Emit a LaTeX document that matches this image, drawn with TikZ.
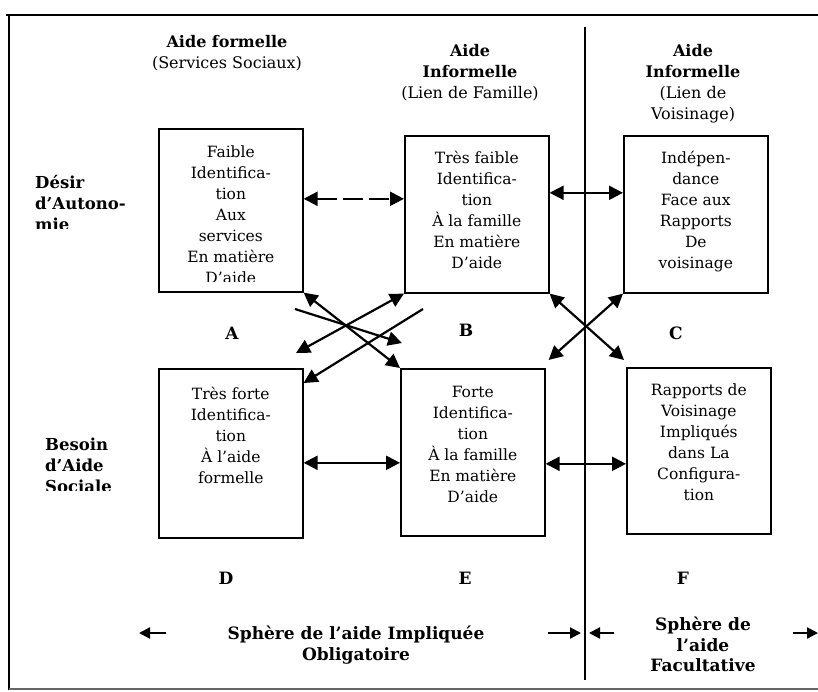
\documentclass[tikz,border=0pt]{standalone}
\usepackage{fontspec}
\setmainfont{DejaVu Serif}
\usetikzlibrary{arrows.meta}
\tikzset{x=1pt, y=-1pt,
  cadre/.style={draw, line width=1.6pt, minimum width=144pt, inner sep=0pt, anchor=north west},
  contenu/.style={anchor=north, align=center, inner sep=0pt, font=\fontsize{15.5}{21}\selectfont},
  titre/.style={anchor=north, align=center, inner sep=0pt, font=\fontsize{16}{21}\selectfont},
  rangee/.style={anchor=north west, align=left, inner sep=0pt, font=\bfseries\fontsize{16.5}{21}\selectfont},
  lettre/.style={inner sep=0pt, font=\bfseries\fontsize{17}{21}\selectfont},
  sphere/.style={anchor=north, align=center, inner sep=0pt, font=\bfseries\fontsize{17}{20.5}\selectfont},
  fleche/.style={line width=2.2pt, {Triangle[length=14pt,width=14pt]}-{Triangle[length=14pt,width=14pt]}},
  simple/.style={line width=2.2pt, -{Triangle[length=14pt,width=14pt]}},
  petite/.style={line width=2.2pt, -{Triangle[length=11pt,width=11pt]}}
}
\def\Cadre#1#2#3#4#5#6#7{%
  \node[cadre, minimum height=#4pt] (#1) at (#2,#3) {};
  \begin{scope}
    \clip (#2,#3) rectangle +(144,#5);
    \node[contenu] (#1t) at ([yshift=-#6pt]#1.north) {#7};
  \end{scope}
}

\begin{document}
\begin{tikzpicture}
\useasboundingbox (0,0) rectangle (818,691);
% cadre exterieur
\draw[line width=2.5pt] (6,15) -- (818,15);
\draw[line width=2.5pt] (9,14) -- (9,690);
\draw[line width=2pt, black!60] (9,689) -- (818,689);
\coordinate (haut) at (585,27);
\coordinate (bas) at (585,680);
\draw[line width=1.6pt] (haut) -- (bas);

\node[titre] (h1) at (227,35) {{\bfseries Aide formelle}\\(Services Sociaux)};
\node[titre] (h2) at (470,44) {{\bfseries Aide}\\{\bfseries Informelle}\\(Lien de Famille)};
\node[titre] (h3) at (693,44) {{\bfseries Aide}\\{\bfseries Informelle}\\(Lien de\\Voisinage)};

\begin{scope}
  \clip (20,150) rectangle (160,228.5);
  \node[rangee] (desir) at (35,175) {Désir\\d’Autono-\\mie};
\end{scope}
\begin{scope}
  \clip (20,420) rectangle (160,490);
  \node[rangee] (besoin) at (45,438) {Besoin\\d’Aide\\Sociale};
\end{scope}

\Cadre{A}{158}{128}{163}{153.5}{18}{Faible\\Identifica-\\tion\\Aux\\services\\En matière\\D’aide}
\Cadre{B}{404}{135}{157}{157}{16}{Très faible\\Identifica-\\tion\\À la famille\\En matière\\D’aide}
\Cadre{C}{623}{135}{157}{157}{16}{Indépen-\\dance\\Face aux\\Rapports\\De\\voisinage}
\Cadre{D}{158}{368}{169}{169}{19}{Très forte\\Identifica-\\tion\\À l’aide\\formelle}
\Cadre{E}{400}{368}{167}{167}{18}{Forte\\Identifica-\\tion\\À la famille\\En matière\\D’aide}
\Cadre{F}{626}{367}{166}{166}{17}{Rapports de\\Voisinage\\Impliqués\\dans La\\Configura-\\tion}

\node[lettre] (lA) at (232,333) {A};
\node[lettre] (lB) at (466,330) {B};
\node[lettre] (lC) at (676,333) {C};
\node[lettre] (lD) at (226,578) {D};
\node[lettre] (lE) at (465,578) {E};
\node[lettre] (lF) at (683,578) {F};

% liaisons horizontales
\draw[fleche, dash pattern=on 20pt off 6pt] ([yshift=11.5pt]A.east) -- ([yshift=15.5pt]B.west);
\draw[fleche] ([yshift=21.5pt]B.east) -- ([yshift=21.5pt]C.west);
\draw[fleche] ([yshift=-9.5pt]D.east) -- ([yshift=-10.5pt]E.west);
\draw[fleche] ([yshift=-11.5pt]E.east) -- ([yshift=-13pt]F.west);

% liaisons croisees
\coordinate (p1) at (295,309);
\coordinate (p2) at (402,343);
\coordinate (p3) at (296,353);
\coordinate (p4) at (423,309);
\draw[fleche] (A.south east) -- (E.north west);
\draw[simple] (p1) -- (p2);
\draw[fleche] (B.south west) -- (p3);
\draw[simple] (p4) -- ([yshift=-15pt]D.north east);
\draw[fleche] (B.south east) -- ([shift={(-2,-7)}]F.north west);
\draw[fleche] (C.south west) -- ([shift={(3,-8)}]E.north east);

% spheres
\node[sphere] (oblig) at (356,626) {Sphère de l’aide Impliquée\\Obligatoire};
\node[sphere] (facult) at (703,617) {Sphère de\\l’aide\\Facultative};
\coordinate (g1) at (166,633);
\coordinate (g2) at (139,633);
\coordinate (m1) at (548,633);
\coordinate (m2) at (581,633);
\coordinate (m3) at (614,633);
\coordinate (m4) at (589,633);
\coordinate (d1) at (793,633);
\coordinate (d2) at (818,633);
\draw[petite] (g1) -- (g2);
\draw[petite] (m1) -- (m2);
\draw[petite] (m3) -- (m4);
\draw[petite] (d1) -- (d2);
\end{tikzpicture}
\end{document}
